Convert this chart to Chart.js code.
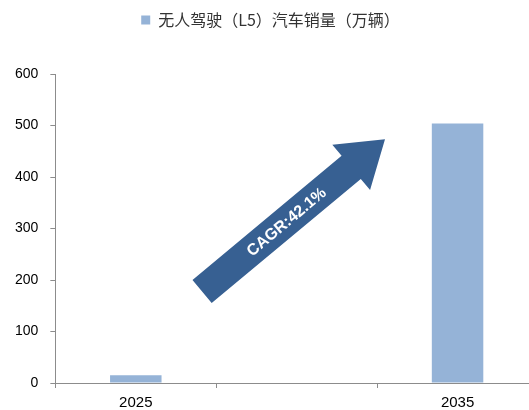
<!DOCTYPE html>
<html>
<head>
<meta charset="utf-8">
<script src="https://cdn.jsdelivr.net/npm/chart.js@4/dist/chart.umd.min.js"></script>
<style>
  html, body { margin: 0; padding: 0; background: #fff; overflow: hidden; }
  #wrap { width: 540px; height: 418px; }
</style>
</head>
<body>
<div id="wrap"><canvas id="c" width="540" height="418"></canvas></div>
<script>
// Sales of fully driverless (L5) vehicles, 10k units
const categories = ['2025', '', '2035'];
const sales = [15, null, 504];
const seriesName = '无人驾驶（L5）汽车销量（万辆）';
const yTicks = [0, 100, 200, 300, 400, 500, 600];
const cagrLabel = 'CAGR:42.1%';

const barColor = '#95B3D7';
const arrowColor = '#376092';
const axisColor = '#8C8C8C';

// Growth arrow drawn over the plot, placed relative to the chart area
const growthArrow = {
  id: 'growthArrow',
  afterDatasetsDraw(chart) {
    const { ctx, chartArea: a } = chart;
    const w = a.right - a.left, h = a.bottom - a.top;
    const tail = { x: a.left + w * 0.304, y: a.top + h * 0.704 };
    const tip  = { x: a.left + w * 0.683, y: a.top + h * 0.211 };
    const dx = tip.x - tail.x, dy = tip.y - tail.y;
    const len = Math.hypot(dx, dy);
    const ang = Math.atan2(dy, dx);
    const shaft = 30, head = 59, headLen = 44;
    ctx.save();
    ctx.translate(tail.x, tail.y);
    ctx.rotate(ang);
    ctx.beginPath();
    ctx.moveTo(0, -shaft / 2);
    ctx.lineTo(len - headLen, -shaft / 2);
    ctx.lineTo(len - headLen, -head / 2);
    ctx.lineTo(len, 0);
    ctx.lineTo(len - headLen, head / 2);
    ctx.lineTo(len - headLen, shaft / 2);
    ctx.lineTo(0, shaft / 2);
    ctx.closePath();
    ctx.fillStyle = arrowColor;
    ctx.fill();
    ctx.fillStyle = '#FFFFFF';
    ctx.font = 'bold 16px "Liberation Sans", Arial, sans-serif';
    ctx.textAlign = 'center';
    ctx.textBaseline = 'middle';
    ctx.fillText(cagrLabel, len * 0.46, 1);
    ctx.restore();
  }
};

// Extra room below the legend before the plot starts
const legendGap = {
  id: 'legendGap',
  afterInit(chart) {
    const legend = chart.legend;
    if (!legend) return;
    const fit = legend.fit;
    legend.fit = function () {
      fit.call(this);
      this.height += 36;
    };
  }
};

new Chart(document.getElementById('c'), {
  type: 'bar',
  data: {
    labels: categories,
    datasets: [{
      label: seriesName,
      data: sales,
      backgroundColor: barColor,
      borderWidth: 0,
      categoryPercentage: 1.0,
      barPercentage: 0.32
    }]
  },
  options: {
    responsive: false,
    animation: false,
    layout: { padding: { top: 0, right: 2, bottom: 0, left: 3 } },
    plugins: {
      tooltip: { enabled: false },
      legend: {
        display: true,
        position: 'top',
        align: 'center',
        labels: {
          boxWidth: 9,
          boxHeight: 9,
          padding: 12,
          color: '#333333',
          font: { size: 16, family: '"Noto Sans CJK SC", sans-serif' }
        }
      }
    },
    scales: {
      x: {
        grid: {
          display: true,
          drawOnChartArea: false,
          drawTicks: true,
          tickLength: 5,
          color: axisColor,
          offset: true
        },
        border: { display: true, color: axisColor, width: 1 },
        ticks: {
          color: '#000',
          padding: 6,
          font: { size: 15, family: '"Liberation Sans", Arial, sans-serif' }
        }
      },
      y: {
        min: 0,
        max: 600,
        afterBuildTicks(scale) { scale.ticks = yTicks.map(v => ({ value: v })); },
        grid: {
          display: true,
          drawOnChartArea: false,
          drawTicks: true,
          tickLength: 5,
          color: axisColor
        },
        border: { display: true, color: axisColor, width: 1 },
        ticks: {
          color: '#000',
          padding: 12,
          font: { size: 14, family: '"Liberation Sans", Arial, sans-serif' }
        }
      }
    }
  },
  plugins: [growthArrow, legendGap]
});
</script>
</body>
</html>
